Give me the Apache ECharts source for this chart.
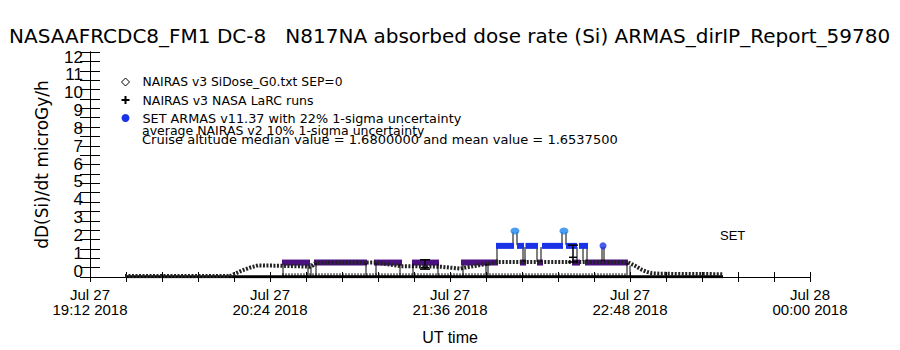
<!DOCTYPE html>
<html><head><meta charset="utf-8">
<script src="https://cdn.jsdelivr.net/npm/echarts@6/dist/echarts.min.js"></script>
<style>html,body{margin:0;padding:0;background:#fff}#c{width:900px;height:350px}</style>
</head><body><div id="c"></div><script>
// x values: minutes after Jul 27 2018 19:12 UT
const xTickValues = [0, 72, 144, 216, 288];
const xTickLabels = ['Jul 27\n19:12 2018', 'Jul 27\n20:24 2018', 'Jul 27\n21:36 2018', 'Jul 27\n22:48 2018', 'Jul 28\n00:00 2018'];
const yTickLabels = ['0','1','2','3','4','5','6','7','8','9','10','11','12'];

// NAIRAS v3 SiDose_G0.txt SEP=0
const nairasMin = [14, 56, 58.4, 60.8, 64, 67.2, 76, 88, 89.2, 90.4, 110.8, 114, 118, 124, 140, 148, 150, 158.8, 162.8, 204, 215.2, 218, 220.8, 222.8, 224.8, 228, 253.2];
const nairasVal = [0.05, 0.05, 0.2, 0.35, 0.5, 0.62, 0.6, 0.55, 0.62, 0.76, 0.78, 0.78, 0.7, 0.58, 0.55, 0.45, 0.5, 0.7, 0.8, 0.8, 0.78, 0.6, 0.38, 0.27, 0.2, 0.17, 0.15];

// near-zero trace along the bottom
const baseMin = [14, 253.2];
const baseVal = [0.02, 0.02];
const dotMin = [77, 215];
const dotVal = [0.09, 0.09];

// ARMAS low-level segments (purple)
const purpleStart = [76.8, 89.6, 113.6, 128.8, 148.4, 172, 178.8, 192.8, 198];
const purpleEnd   = [88, 110.8, 124.8, 139.6, 163.2, 174.4, 181.2, 196, 215.2];
const purpleVal   = [0.77, 0.77, 0.77, 0.77, 0.77, 0.77, 0.77, 0.77, 0.77];

// SET ARMAS cruise segments (blue)
const blueStart = [162.4, 170.8, 174.2, 180.8, 190.4, 195.6];
const blueEnd   = [169.6, 173.6, 179.2, 189.2, 194.8, 199.2];
const blueVal   = [1.66, 1.66, 1.66, 1.66, 1.66, 1.66];
const blueDotMin = [205.2];
const blueDotVal = [1.66];

// SET ARMAS high points (light blue)
const hiMin = [170, 189.6];
const hiVal = [2.45, 2.45];

// vertical connectors
const connMin  = [77.2, 87.2, 88.4, 90.4, 110.4, 114.4, 124, 129.2, 139.2, 149.2, 158.4, 159.2, 162.8, 169.2, 170.8, 173.2, 174, 178.8, 180.4, 188.8, 190.4, 194.8, 197.2, 198.8, 204.8, 205.6, 214.8, 216];
const connLow  = [0.07, 0.07, 0.07, 0.07, 0.07, 0.07, 0.07, 0.07, 0.07, 0.07, 0.07, 0.07, 0.9, 1.7, 1.7, 0.8, 0.8, 0.8, 0.8, 1.7, 1.7, 0.8, 0.85, 0.85, 0.85, 0.85, 0.07, 0.07];
const connHigh = [0.6, 0.65, 0.75, 0.75, 0.75, 0.75, 0.72, 0.72, 0.72, 0.65, 0.7, 0.7, 1.6, 2.4, 2.4, 1.6, 1.6, 1.6, 1.6, 2.4, 2.4, 1.6, 1.6, 1.6, 1.6, 1.6, 0.75, 0.6];

// NAIRAS v3 NASA LaRC runs
const larcMin  = [134, 193.2];
const larcVal  = [0.5, 1.05];
const larcLow  = [0.42, 0.8];
const larcHigh = [0.92, 1.7];

const NAME1 = 'NAIRAS v3 SiDose_G0.txt SEP=0';
const NAME2 = 'NAIRAS v3 NASA LaRC runs';
const NAME3 = 'SET ARMAS v11.37 with 22% 1-sigma uncertainty';
const PURPLE = '#4b1080', BLUE = '#1a33e6', LBLUE = '#1f86f0';
const NARROW = "'Liberation Sans Narrow','Liberation Sans',sans-serif";
const SANS = "'Liberation Sans',sans-serif";
const DJ = "'DejaVu Sans',sans-serif";

function segRender(color, width) {
  return function (params, api) {
    const a = api.coord([api.value(0), api.value(2)]);
    const b = api.coord([api.value(1), api.value(2)]);
    return {type: 'line', shape: {x1: a[0], y1: a[1], x2: b[0], y2: b[1]},
      style: {stroke: color, lineWidth: width, lineCap: 'butt'}};
  };
}

// y tick label vertical nudges (labels spaced slightly tighter than ticks)
const yRich = {};
yTickLabels.forEach((t, i) => {
  const d = -6 + 11 * i / 12;
  yRich['l' + i] = {fontFamily: NARROW, fontSize: 17, color: '#000',
    padding: d >= 0 ? [2 * d, 0, 0, 0] : [0, 0, -2 * d, 0]};
});

const chart = echarts.init(document.getElementById('c'), null, {renderer: 'svg'});
const xCommon = {type: 'value', min: 0, max: 288, interval: 72,
  axisLine: {lineStyle: {color: '#000', width: 1}},
  axisTick: {inside: true, length: 5, lineStyle: {color: '#000'}},
  minorTick: {show: true, splitNumber: 5, length: 5, lineStyle: {color: '#000'}},
  splitLine: {show: false}};
const yCommon = {type: 'value', min: 0, max: 12, interval: 1,
  axisLine: {show: true, lineStyle: {color: '#000', width: 1}},
  axisTick: {inside: true, length: 10, lineStyle: {color: '#000'}},
  minorTick: {show: true, splitNumber: 2, length: 10, lineStyle: {color: '#000'}},
  splitLine: {show: false}};

chart.setOption({
  animation: false,
  backgroundColor: '#fff',
  title: {text: 'NASAAFRCDC8_FM1 DC-8   N817NA absorbed dose rate (Si) ARMAS_dirIP_Report_59780',
    left: 4, top: 21, textStyle: {fontFamily: DJ, fontSize: 20, fontWeight: 'normal', color: '#000'}},
  grid: {left: 90, right: 90, top: 52, bottom: 72, containLabel: false},
  legend: {orient: 'vertical', left: 121, top: 75, itemGap: 4, itemWidth: 8, itemHeight: 8, padding: 0,
    textStyle: {fontFamily: DJ, fontSize: 12, color: '#000', lineHeight: 14, padding: [0, 0, 0, 8],
      rich: {
        a: {fontFamily: DJ, fontSize: 12.3, lineHeight: 14},
        b: {fontFamily: DJ, fontSize: 12.5, lineHeight: 14},
        c: {fontFamily: DJ, fontSize: 12.8, lineHeight: 14}
      }},
    formatter: n => n === NAME1 ? '{a|' + n + '}' : (n === NAME2 ? '{b|' + n + '}' : '{c|' + n + '}'),
    selectedMode: false,
    data: [
      {name: NAME1, icon: 'diamond', itemStyle: {color: '#fff', borderColor: '#000', borderWidth: 1}},
      {name: NAME2, icon: 'path://M3,0h2v3h3v2h-3v3h-2v-3h-3v-2h3z', itemStyle: {color: '#000'}},
      {name: NAME3, icon: 'circle', itemStyle: {color: BLUE}}
    ]},
  graphic: [
    {type: 'text', left: 142, top: 124, style: {text: 'average NAIRAS v2 10% 1-sigma uncertainty', fontFamily: DJ, fontSize: 12.5, fill: '#000'}},
    {type: 'text', left: 142, top: 133, style: {text: 'Cruise altitude median value = 1.6800000 and mean value = 1.6537500', fontFamily: DJ, fontSize: 13, fill: '#000'}},
    {type: 'text', left: 720, top: 229, style: {text: 'SET', fontFamily: SANS, fontSize: 13, fill: '#000'}}
  ],
  xAxis: [
    Object.assign({}, xCommon, {position: 'bottom', name: 'UT time', nameLocation: 'middle', nameGap: 52,
      nameTextStyle: {fontFamily: NARROW, fontSize: 16, color: '#000'},
      axisLabel: {margin: 10, fontFamily: NARROW, fontSize: 15, lineHeight: 15, color: '#000',
        formatter: v => { const i = xTickValues.indexOf(v); return i >= 0 ? xTickLabels[i] : ''; }}}),
    Object.assign({}, xCommon, {position: 'top', axisLabel: {show: false}})
  ],
  yAxis: [
    Object.assign({}, yCommon, {position: 'left', name: 'dD(Si)/dt microGy/h', nameLocation: 'middle', nameGap: 40,
      nameTextStyle: {fontFamily: DJ, fontSize: 17, color: '#000'},
      axisLabel: {margin: 7, rich: yRich,
        formatter: v => { const i = Math.round(v); return yTickLabels[i] ? '{l' + i + '|' + yTickLabels[i] + '}' : ''; }}}),
    Object.assign({}, yCommon, {position: 'right', axisLabel: {show: false}})
  ],
  series: [
    {type: 'line', name: 'base', data: baseMin.map((m, i) => [m, baseVal[i]]), symbol: 'none',
      lineStyle: {color: '#000', width: 3}, silent: true, z: 2},
    {type: 'line', name: 'dots', data: dotMin.map((m, i) => [m, dotVal[i]]), symbol: 'none',
      lineStyle: {color: '#000', width: 4, type: [1, 2]}, silent: true, z: 2},
    {type: 'custom', name: 'purple', renderItem: segRender(PURPLE, 6), encode: {x: [0, 1], y: 2},
      data: purpleStart.map((s, i) => [s, purpleEnd[i], purpleVal[i]]), z: 3},
    {type: 'line', name: NAME1, data: nairasMin.map((m, i) => [m, nairasVal[i]]), symbol: 'none',
      itemStyle: {color: '#000'}, lineStyle: {color: '#222', width: 4, type: [2, 1.5]}, z: 4},
    {type: 'custom', name: 'conn', encode: {x: 0, y: [1, 2]},
      data: connMin.map((m, i) => [m, connLow[i], connHigh[i]]),
      renderItem: (p, api) => {
        const a = api.coord([api.value(0), api.value(1)]);
        const b = api.coord([api.value(0), api.value(2)]);
        return {type: 'line', shape: {x1: a[0], y1: a[1], x2: b[0], y2: b[1]}, style: {stroke: '#000', lineWidth: 1}};
      }, z: 5},
    {type: 'custom', name: NAME3, renderItem: segRender(BLUE, 6), encode: {x: [0, 1], y: 2},
      itemStyle: {color: BLUE},
      data: blueStart.map((s, i) => [s, blueEnd[i], blueVal[i]]), z: 6},
    {type: 'scatter', name: 'bluedot', data: blueDotMin.map((m, i) => [m, blueDotVal[i]]), symbol: 'circle', symbolSize: [7, 7],
      itemStyle: {color: BLUE}, z: 6},
    {type: 'scatter', name: 'hi', data: hiMin.map((m, i) => [m, hiVal[i]]), symbol: 'circle', symbolSize: [9, 7],
      itemStyle: {color: LBLUE}, z: 6},
    {type: 'custom', name: NAME2, encode: {x: 0, y: [2, 3]}, itemStyle: {color: '#000'},
      data: larcMin.map((m, i) => [m, larcVal[i], larcLow[i], larcHigh[i]]),
      renderItem: (p, api) => {
        const c = api.coord([api.value(0), api.value(1)]);
        const lo = api.coord([api.value(0), api.value(2)]);
        const hi = api.coord([api.value(0), api.value(3)]);
        const st = {stroke: '#000', lineWidth: 1.5};
        return {type: 'group', children: [
          {type: 'line', shape: {x1: lo[0], y1: lo[1], x2: hi[0], y2: hi[1]}, style: st},
          {type: 'line', shape: {x1: hi[0] - 5, y1: hi[1], x2: hi[0] + 5, y2: hi[1]}, style: st},
          {type: 'line', shape: {x1: lo[0] - 5, y1: lo[1], x2: lo[0] + 5, y2: lo[1]}, style: st},
          {type: 'line', shape: {x1: c[0] - 4, y1: c[1], x2: c[0] + 4, y2: c[1]}, style: st}
        ]};
      }, z: 7}
  ]
});
</script></body></html>
